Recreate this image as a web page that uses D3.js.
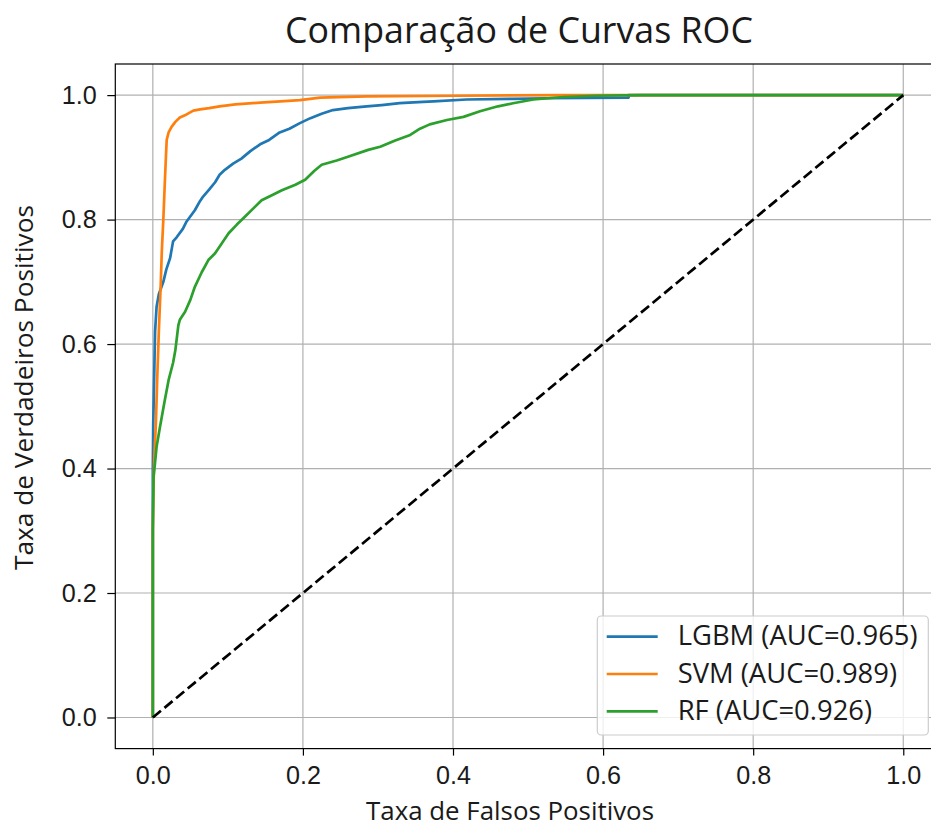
<!DOCTYPE html>
<html><head><meta charset="utf-8">
<script src="https://cdn.jsdelivr.net/npm/d3@7"></script>
<style>
html,body{margin:0;padding:0;background:#fff;}
svg{display:block;font-family:"Open Sans","DejaVu Sans",sans-serif;}
</style></head>
<body>
<svg id="chart" width="931" height="828"></svg>
<script>
// ---- data ----
const title = "Comparação de Curvas ROC";
const xLabel = "Taxa de Falsos Positivos";
const yLabel = "Taxa de Verdadeiros Positivos";
const xTicks = [0.0, 0.2, 0.4, 0.6, 0.8, 1.0];
const yTicks = [0.0, 0.2, 0.4, 0.6, 0.8, 1.0];
const modelNames = ["LGBM", "SVM", "RF"];
const modelAUC = [0.965, 0.989, 0.926];
const modelColors = ["#1f77b4", "#ff7f0e", "#2ca02c"];

const lgbmFpr = [0,0,0,0.0005,0.001,0.002,0.003,0.005,0.008,0.014,0.018,0.023,0.027,0.032,0.040,0.045,0.056,0.063,0.067,0.075,0.083,0.089,0.096,0.107,0.118,0.130,0.143,0.155,0.169,0.182,0.196,0.210,0.225,0.240,0.260,0.285,0.305,0.329,0.360,0.374,0.418,0.480,0.525,0.634,0.634,1.0];
const lgbmTpr = [0,0.25,0.40,0.47,0.50,0.56,0.62,0.66,0.68,0.70,0.72,0.738,0.765,0.772,0.785,0.797,0.815,0.830,0.837,0.848,0.860,0.872,0.880,0.890,0.898,0.910,0.921,0.928,0.940,0.946,0.955,0.963,0.970,0.976,0.979,0.982,0.984,0.987,0.989,0.990,0.993,0.994,0.995,0.996,1.0,1.0];

const svmFpr = [0,0,0.001,0.002,0.004,0.006,0.008,0.0105,0.012,0.014,0.016,0.0176,0.0185,0.021,0.025,0.030,0.036,0.045,0.054,0.063,0.075,0.089,0.110,0.143,0.170,0.196,0.223,0.285,0.400,0.550,1.0];
const svmTpr = [0,0.30,0.38,0.42,0.47,0.55,0.62,0.695,0.75,0.80,0.86,0.905,0.928,0.940,0.949,0.957,0.964,0.969,0.975,0.977,0.979,0.982,0.985,0.988,0.990,0.992,0.996,0.998,0.999,1.0,1.0];

const rfFpr = [0,0,0.001,0.003,0.005,0.0096,0.013,0.016,0.021,0.027,0.030,0.034,0.036,0.043,0.050,0.056,0.065,0.074,0.083,0.092,0.101,0.112,0.123,0.134,0.145,0.160,0.172,0.190,0.203,0.215,0.225,0.245,0.260,0.287,0.303,0.323,0.343,0.356,0.369,0.392,0.414,0.436,0.460,0.480,0.507,0.547,0.591,0.650,1.0];
const rfTpr = [0,0.30,0.387,0.41,0.435,0.467,0.49,0.51,0.542,0.570,0.590,0.630,0.639,0.652,0.671,0.692,0.715,0.735,0.746,0.762,0.778,0.792,0.805,0.818,0.831,0.840,0.847,0.856,0.864,0.878,0.888,0.895,0.901,0.912,0.917,0.927,0.936,0.946,0.953,0.960,0.965,0.974,0.982,0.987,0.993,0.997,0.999,1.0,1.0];

const diagX = [0, 1];
const diagY = [0, 1];

// ---- layout ----
const svg = d3.select("#chart");
const x = d3.scaleLinear().domain([-0.05, 1.05]).range([115.3, 940.8]);
const y = d3.scaleLinear().domain([-0.05, 1.05]).range([748.6, 64.0]);
const textColor = "#1a1a1a";

function fitText(sel, target) {
  sel.style("font-size", "100px");
  const w = sel.node().getComputedTextLength();
  const fs = 100 * target / w;
  sel.style("font-size", fs + "px");
  return fs;
}

// grid
const grid = svg.append("g");
grid.selectAll("line.vx").data(xTicks).join("line")
  .attr("x1", d => x(d)).attr("x2", d => x(d))
  .attr("y1", y(-0.05)).attr("y2", y(1.05))
  .attr("stroke", "#b0b0b0").attr("stroke-width", 1.2);
grid.selectAll("line.hy").data(yTicks).join("line")
  .attr("x1", x(-0.05)).attr("x2", x(1.05))
  .attr("y1", d => y(d)).attr("y2", d => y(d))
  .attr("stroke", "#b0b0b0").attr("stroke-width", 1.2);

// curves
const line = d3.line().x(d => x(d[0])).y(d => y(d[1]));
const series = [
  d3.zip(lgbmFpr, lgbmTpr),
  d3.zip(svmFpr, svmTpr),
  d3.zip(rfFpr, rfTpr)
];
series.forEach((s, i) => {
  svg.append("path").datum(s).attr("d", line)
    .attr("fill", "none").attr("stroke", modelColors[i])
    .attr("stroke-width", 2.7).attr("stroke-linejoin", "round").attr("stroke-linecap", "butt");
});
svg.append("path").datum(d3.zip(diagX, diagY)).attr("d", line)
  .attr("fill", "none").attr("stroke", "#000").attr("stroke-width", 2.7)
  .attr("stroke-dasharray", "10.5,4.6");

// frame
svg.append("rect").attr("x", x(-0.05)).attr("y", y(1.05))
  .attr("width", x(1.05) - x(-0.05)).attr("height", y(-0.05) - y(1.05))
  .attr("fill", "none").attr("stroke", "#000").attr("stroke-width", 1.2);

// axes
const fmt = d3.format(".1f");
const gx = svg.append("g").attr("transform", `translate(0,${y(-0.05)})`)
  .call(d3.axisBottom(x).tickValues(xTicks).tickFormat(fmt).tickSize(7).tickSizeOuter(0));
gx.select(".domain").remove();
gx.selectAll(".tick line").attr("stroke", "#000").attr("stroke-width", 1.2);
gx.selectAll(".tick text").attr("dy", null).attr("y", 35.5).attr("fill", textColor)
  .attr("font-family", null).style("font-size", "24px");

const gy = svg.append("g").attr("transform", `translate(${x(-0.05)},0)`)
  .call(d3.axisLeft(y).tickValues(yTicks).tickFormat(fmt).tickSize(8).tickSizeOuter(0));
gy.select(".domain").remove();
gy.selectAll(".tick line").attr("stroke", "#000").attr("stroke-width", 1.2);
gy.selectAll(".tick text").attr("dy", null).attr("x", -18.5).attr("y", 8.3).attr("fill", textColor)
  .attr("font-family", null).style("font-size", "24px");
gx.attr("font-size", null); gy.attr("font-size", null);
{
  const t0 = gx.select(".tick text");
  const fs = fitText(t0, 35);
  gx.selectAll(".tick text").style("font-size", fs + "px");
  gy.selectAll(".tick text").style("font-size", fs + "px");
}

// title & labels
const tTitle = svg.append("text").text(title).attr("fill", textColor)
  .attr("x", 519).attr("y", 43).attr("text-anchor", "middle");
fitText(tTitle, 468);
const tX = svg.append("text").text(xLabel).attr("fill", textColor)
  .attr("x", 510).attr("y", 820).attr("text-anchor", "middle");
fitText(tX, 288);
const tY = svg.append("text").text(yLabel).attr("fill", textColor)
  .attr("transform", "translate(33,387.5) rotate(-90)").attr("text-anchor", "middle");
fitText(tY, 365);

// legend
const lg = svg.append("g");
lg.append("rect").attr("x", 597.3).attr("y", 616).attr("width", 331).attr("height", 119)
  .attr("rx", 4).attr("fill", "#fff").attr("fill-opacity", 0.8)
  .attr("stroke", "#cccccc").attr("stroke-width", 1.2);
const rowY = [636.7, 674, 711.3];
let legFs = null;
modelNames.forEach((n, i) => {
  lg.append("line").attr("x1", 606.7).attr("x2", 657.7)
    .attr("y1", rowY[i]).attr("y2", rowY[i])
    .attr("stroke", modelColors[i]).attr("stroke-width", 2.7);
  const t = lg.append("text").text(`${n} (AUC=${modelAUC[i].toFixed(3)})`)
    .attr("x", 677.7).attr("y", rowY[i] + 8.5).attr("fill", textColor);
  if (i === 0) legFs = fitText(t, 240); else t.style("font-size", legFs + "px");
});
</script>
</body></html>
